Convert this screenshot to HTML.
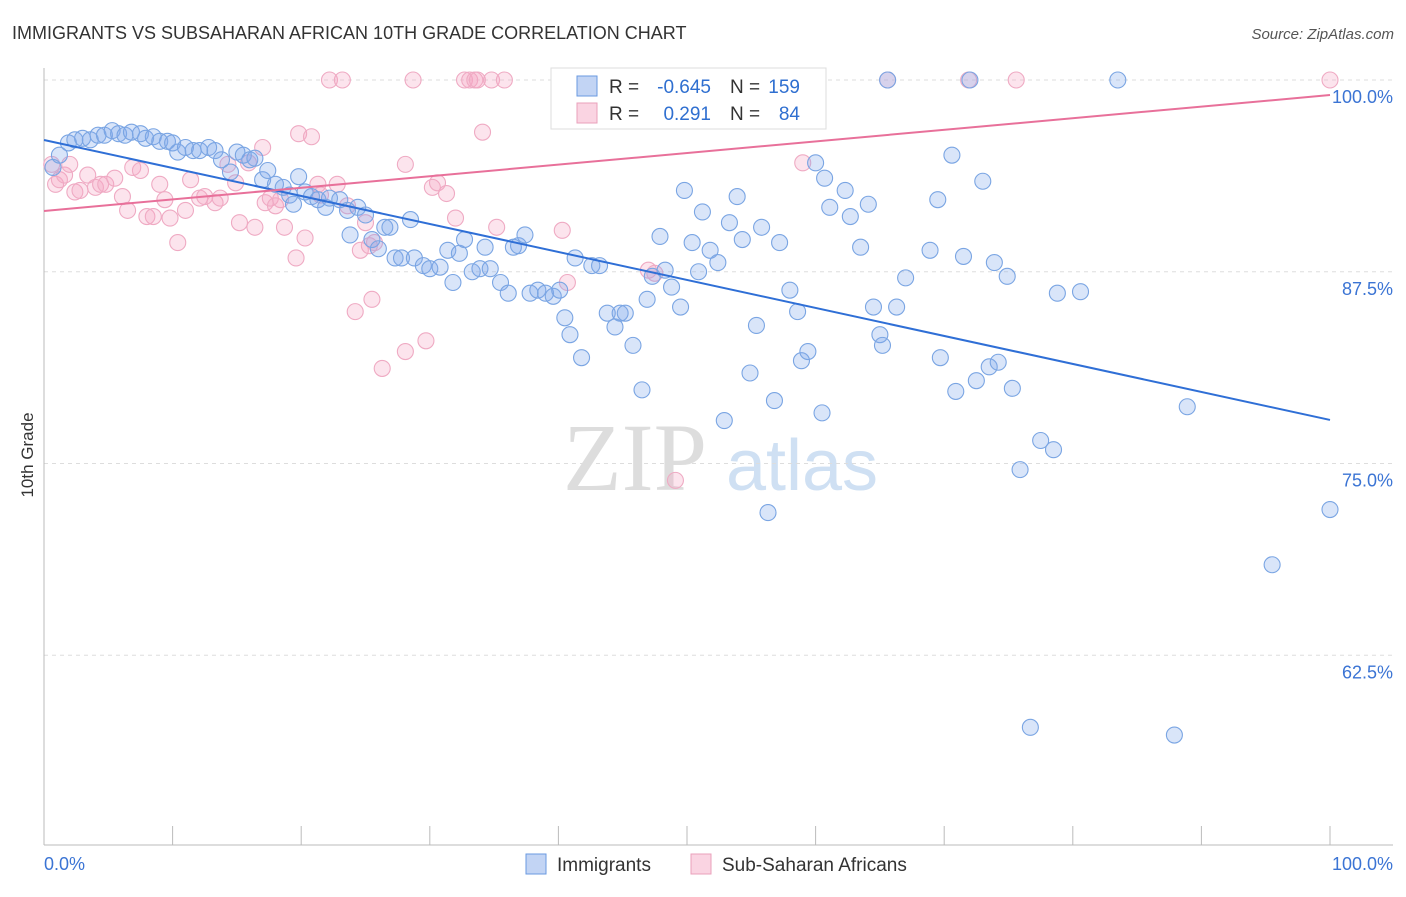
<!DOCTYPE html>
<html><head><meta charset="utf-8"><style>
body{margin:0;background:#fff;font-family:"Liberation Sans",sans-serif;}
</style></head><body>
<svg id="chart" width="1406" height="892" xmlns="http://www.w3.org/2000/svg" font-family="Liberation Sans, sans-serif">
<text x="12" y="39" font-size="18" fill="#333">IMMIGRANTS VS SUBSAHARAN AFRICAN 10TH GRADE CORRELATION CHART</text>
<text x="1394" y="39" font-size="15" fill="#555" font-style="italic" text-anchor="end">Source: ZipAtlas.com</text>
<text x="0" y="0" transform="translate(33,455) rotate(-90)" font-size="17" fill="#333" text-anchor="middle">10th Grade</text>
<g>
<text x="635" y="490" font-size="96" fill="#ddd" font-family="Liberation Serif, serif" text-anchor="middle">ZIP</text>
<text x="802" y="490" font-size="72" fill="#cfe0f3" text-anchor="middle">atlas</text>
</g>
<g id="grid"></g><g id="axes"></g><g id="marks"></g>
<g>
<rect x="551" y="68" width="275" height="61" fill="#fff" stroke="#ddd"/>
<rect x="577" y="76" width="20" height="20" fill="rgba(120,160,230,0.45)" stroke="#6a9ae0"/>
<rect x="577" y="103" width="20" height="20" fill="rgba(245,160,190,0.45)" stroke="#eaa0bb"/>
<text x="609" y="93" font-size="19" fill="#333">R =</text>
<text x="711" y="93" font-size="19" fill="#2f6fd0" text-anchor="end">-0.645</text>
<text x="730" y="93" font-size="19" fill="#333">N =</text>
<text x="800" y="93" font-size="19" fill="#2f6fd0" text-anchor="end">159</text>
<text x="609" y="120" font-size="19" fill="#333">R =</text>
<text x="711" y="120" font-size="19" fill="#2f6fd0" text-anchor="end">0.291</text>
<text x="730" y="120" font-size="19" fill="#333">N =</text>
<text x="800" y="120" font-size="19" fill="#2f6fd0" text-anchor="end">84</text>
</g>
<g>
<rect x="526" y="854" width="20" height="20" fill="rgba(120,160,230,0.45)" stroke="#6a9ae0"/>
<text x="557" y="871" font-size="19" fill="#333">Immigrants</text>
<rect x="691" y="854" width="20" height="20" fill="rgba(245,160,190,0.45)" stroke="#eaa0bb"/>
<text x="722" y="871" font-size="19" fill="#333">Sub-Saharan Africans</text>
</g>
</svg>
<script>
const blueX=[0.7,1.2,1.9,2.4,3.0,3.6,4.2,4.7,5.3,5.8,6.3,6.8,7.5,7.9,8.5,9.0,9.6,10.0,10.4,11.0,11.6,12.1,12.8,13.3,13.8,14.5,15.0,15.5,16.0,16.4,17.0,17.4,18.0,18.6,19.1,19.4,19.8,20.3,20.8,21.3,21.9,22.2,23.0,23.6,24.4,25.0,23.8,25.5,26.0,26.5,26.9,27.3,27.8,28.5,28.8,29.5,30.0,30.8,31.4,31.8,32.3,32.7,33.3,33.9,34.3,34.7,35.5,36.1,36.5,36.9,37.4,37.8,38.4,39.0,39.6,40.1,40.5,40.9,41.3,41.8,42.6,43.2,43.8,44.4,44.8,45.2,45.8,46.5,46.9,47.3,47.9,48.3,48.8,49.5,49.8,50.4,50.9,51.2,51.8,52.4,52.9,53.3,53.9,54.3,54.9,55.4,55.8,56.3,56.8,57.2,58.0,58.6,58.9,59.4,60.0,60.5,60.7,61.1,62.3,62.7,63.5,64.1,64.5,65.0,65.2,65.6,66.3,67.0,68.9,69.5,69.7,70.6,70.9,71.5,72.0,72.5,73.0,73.5,73.9,74.2,74.9,75.3,75.9,77.5,78.5,78.8,80.6,76.7,83.5,87.9,88.9,95.5,100];
const blueY=[94.3,95.1,95.9,96.1,96.2,96.1,96.4,96.4,96.7,96.5,96.4,96.6,96.5,96.2,96.3,96.0,96.0,95.9,95.3,95.6,95.4,95.4,95.6,95.4,94.8,94.0,95.3,95.1,94.8,94.9,93.5,94.1,93.2,93.0,92.5,91.9,93.7,92.7,92.4,92.2,91.7,92.3,92.2,91.5,91.7,91.2,89.9,89.6,89.0,90.4,90.4,88.4,88.4,90.9,88.4,87.9,87.7,87.8,88.9,86.8,88.7,89.6,87.5,87.7,89.1,87.7,86.8,86.1,89.1,89.2,89.9,86.1,86.3,86.1,85.9,86.3,84.5,83.4,88.4,81.9,87.9,87.9,84.8,83.9,84.8,84.8,82.7,79.8,85.7,87.2,89.8,87.6,86.5,85.2,92.8,89.4,87.5,91.4,88.9,88.1,77.8,90.7,92.4,89.6,80.9,84.0,90.4,71.8,79.1,89.4,86.3,84.9,81.7,82.3,94.6,78.3,93.6,91.7,92.8,91.1,89.1,91.9,85.2,83.4,82.7,100,85.2,87.1,88.9,92.2,81.9,95.1,79.7,88.5,100,80.4,93.4,81.3,88.1,81.6,87.2,79.9,74.6,76.5,75.9,86.1,86.2,57.8,100,57.3,78.7,68.4,72.0];
const pinkX=[0.6,0.9,1.2,1.6,2.0,2.4,2.8,3.4,4.0,4.4,4.8,5.5,6.1,6.5,6.9,7.5,8.0,8.5,9.0,9.4,9.8,10.4,11.0,11.4,12.1,12.5,13.3,13.7,14.3,14.9,15.2,15.9,16.4,17.0,17.2,17.6,18.0,18.4,18.7,19.6,19.8,20.3,20.8,21.3,21.5,22.2,22.8,23.2,23.6,24.2,24.6,25.0,25.3,25.5,25.7,26.3,28.1,28.1,28.7,29.7,30.2,30.6,31.3,32.0,32.7,33.1,33.5,33.7,34.1,34.8,35.2,35.8,40.3,40.7,47.0,47.5,49.1,59.0,65.6,71.9,75.6,100];
const pinkY=[94.5,93.2,93.5,93.8,94.5,92.7,92.8,93.8,93.0,93.2,93.2,93.6,92.4,91.5,94.3,94.1,91.1,91.1,93.2,92.2,91.0,89.4,91.5,93.5,92.3,92.4,92.0,92.3,94.5,93.3,90.7,94.6,90.4,95.6,92.0,92.3,91.8,92.2,90.4,88.4,96.5,89.7,96.3,93.2,92.5,100,93.2,100,91.8,84.9,88.9,90.7,89.2,85.7,89.4,81.2,82.3,94.5,100,83.0,93.0,93.3,92.6,91.0,100,100,100,100,96.6,100,90.4,100,90.2,86.8,87.6,87.4,73.9,94.6,100,100,100,100];
const blueTrend=[96.09,77.84];
const pinkTrend=[91.46,99.02];
const yTicks=[100,87.5,75,62.5];
const yTickLabels=["100.0%","87.5%","75.0%","62.5%"];
const xTicks=[0,10,20,30,40,50,60,70,80,90,100];

const NS="http://www.w3.org/2000/svg";
const xs=v=>44+v*12.86;
const ys=v=>80+(100-v)*15.34;
function mk(tag,attrs,parent){const e=document.createElementNS(NS,tag);for(const k in attrs)e.setAttribute(k,attrs[k]);document.getElementById(parent).appendChild(e);return e;}
yTicks.forEach((t,i)=>{
 const g=mk('line',{x1:44,x2:1393,y1:ys(t),y2:ys(t),stroke:'#ddd','stroke-dasharray':'4,4'},'grid');
 
 
 const l=mk('text',{x:1393,y:ys(t)+23,'font-size':18,fill:'#3b74d4','text-anchor':'end'},'axes');
 l.textContent=yTickLabels[i];
 
 
});
const xa=mk('line',{x1:44,x2:1393,y1:845,y2:845,stroke:'#bbb'},'axes');


const ya=mk('line',{x1:44,x2:44,y1:68,y2:845,stroke:'#bbb'},'axes');


xTicks.forEach(t=>{
 const k=mk('line',{x1:xs(t),x2:xs(t),y1:826,y2:845,stroke:'#bbb'},'axes');
 
 
});
const x0=mk('text',{x:44,y:870,'font-size':18,fill:'#3b74d4'},'axes');x0.textContent='0.0%';


const x1=mk('text',{x:1393,y:870,'font-size':18,fill:'#3b74d4','text-anchor':'end'},'axes');x1.textContent='100.0%';


pinkX.forEach((x,i)=>{
 const c=mk('circle',{cx:xs(x),cy:ys(pinkY[i]),r:8,fill:'rgba(245,165,195,0.3)',stroke:'#efaac3','stroke-width':1.1},'marks');
 
 
});
blueX.forEach((x,i)=>{
 const c=mk('circle',{cx:xs(x),cy:ys(blueY[i]),r:8,fill:'rgba(130,170,235,0.3)',stroke:'#7aa5e3','stroke-width':1.1},'marks');
 
 
});
const bl=mk('line',{x1:xs(0),y1:ys(blueTrend[0]),x2:xs(100),y2:ys(blueTrend[1]),stroke:'#2f6fd6','stroke-width':2},'marks');


const pl=mk('line',{x1:xs(0),y1:ys(pinkTrend[0]),x2:xs(100),y2:ys(pinkTrend[1]),stroke:'#e8709a','stroke-width':2},'marks');


</script>
</body></html>
